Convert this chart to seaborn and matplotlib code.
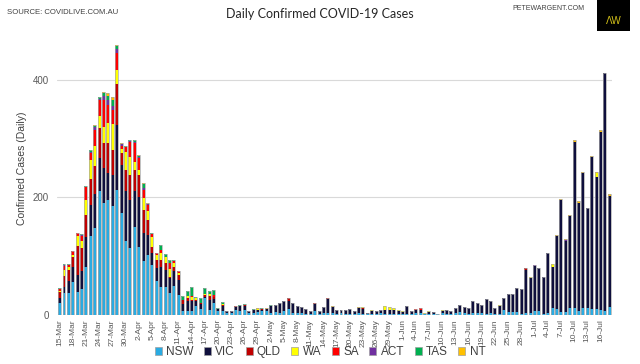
import numpy as np
import pandas as pd
import matplotlib
matplotlib.use("Agg")
from matplotlib import pyplot as plt
from matplotlib.patches import Rectangle
import seaborn as sns

states = ["NSW", "VIC", "QLD", "WA", "SA", "ACT", "TAS", "NT"]
colours = ["#29abe2", "#0f0f3d", "#c00000", "#ffff00", "#ff0000", "#7030a0", "#00b050", "#ffc000"]

dates = pd.date_range("2020-03-15", "2020-07-18")
day_labels = [f"{d.day}-{d.strftime('%b')}" for d in dates]

# daily cases by state, 15-Mar .. 18-Jul
nsw = [21, 37, 38, 56, 39, 44, 81, 135, 148, 210, 190, 196, 186, 212, 173, 125, 113, 149, 116, 91,
       102, 85, 57, 48, 47, 38, 49, 34, 7, 7, 6, 15, 10, 28, 8, 20, 6, 6, 4, 3,
       9, 7, 9, 3, 4, 5, 6, 6, 4, 5, 4, 6, 10, 3, 4, 3, 2, 2, 6, 2,
       3, 4, 3, 2, 3, 2, 2, 1, 3, 2, 1, 2, 2, 3, 2, 2, 2, 2, 1, 2,
       2, 4, 3, 1, 2, 2, 1, 3, 2, 1, 3, 5, 3, 2, 4, 3, 4, 2, 4, 2,
       2, 8, 5, 5, 5, 2, 4, 4, 6, 6, 2, 4, 12, 10, 5, 5, 11, 11, 6, 11,
       11, 10, 10, 8, 7, 13]
vic = [7, 11, 20, 26, 29, 30, 52, 52, 58, 57, 60, 45, 52, 111, 82, 85, 83, 61, 85, 48,
       34, 20, 22, 34, 30, 24, 25, 26, 11, 16, 17, 9, 8, 3, 18, 7, 4, 9, 2, 3,
       5, 8, 6, 3, 4, 4, 3, 4, 11, 12, 17, 17, 14, 17, 11, 10, 8, 5, 13, 5,
       10, 23, 11, 7, 6, 7, 8, 6, 9, 8, 2, 4, 5, 6, 7, 6, 6, 4, 4, 13,
       5, 4, 6, 0, 3, 3, 1, 4, 7, 6, 8, 12, 11, 9, 19, 17, 13, 25, 19, 10,
       13, 20, 31, 31, 40, 42, 73, 59, 78, 73, 62, 101, 69, 124, 191, 120, 157, 284, 185, 231,
       171, 259, 225, 303, 405, 189]
qld = [11, 18, 19, 16, 50, 40, 37, 44, 48, 51, 42, 52, 43, 70, 20, 37, 42, 37, 37, 40,
       26, 10, 15, 12, 11, 3, 8, 8, 8, 5, 3, 2, 3, 3, 6, 4, 0, 2, 0, 0,
       1, 0, 1, 1, 1, 0, 1, 0, 0, 0, 0, 0, 4, 0, 0, 1, 0, 0, 2, 0,
       0, 1, 0, 0, 0, 0, 0, 0, 0, 1, 0, 0, 0, 0, 0, 0, 0, 0, 0, 0,
       0, 1, 0, 0, 0, 0, 0, 0, 0, 0, 0, 0, 0, 0, 0, 0, 0, 0, 0, 0,
       0, 0, 0, 0, 0, 0, 2, 0, 0, 0, 0, 0, 0, 0, 0, 0, 0, 0, 0, 0,
       0, 0, 0, 0, 0, 0]
wa = [2, 11, 4, 4, 16, 11, 26, 33, 34, 20, 28, 33, 44, 23, 8, 31, 31, 14, 9, 20,
      14, 17, 8, 11, 10, 13, 6, 3, 0, 4, 4, 2, 0, 1, 3, 0, 0, 1, 0, 0,
      0, 0, 0, 0, 0, 1, 0, 0, 0, 0, 0, 0, 0, 0, 0, 0, 0, 0, 0, 0,
      0, 0, 0, 0, 0, 0, 0, 0, 0, 2, 0, 3, 0, 0, 6, 5, 3, 3, 2, 0,
      0, 0, 0, 2, 1, 0, 0, 1, 0, 0, 0, 0, 0, 0, 0, 0, 0, 0, 0, 0,
      1, 0, 0, 0, 0, 0, 0, 1, 0, 0, 0, 0, 5, 0, 0, 0, 0, 0, 0, 0,
      0, 0, 6, 0, 0, 0]
sa = [3, 7, 4, 6, 5, 10, 21, 11, 26, 28, 46, 31, 24, 29, 5, 7, 26, 31, 20, 14,
      11, 5, 3, 5, 0, 10, 4, 4, 0, 0, 2, 0, 0, 1, 0, 3, 0, 0, 0, 0,
      0, 0, 0, 0, 0, 0, 0, 0, 0, 0, 0, 0, 0, 0, 0, 0, 0, 0, 0, 0,
      0, 0, 0, 0, 0, 0, 0, 0, 0, 0, 0, 0, 0, 0, 0, 0, 0, 0, 0, 0,
      0, 1, 2, 0, 0, 0, 0, 0, 0, 0, 0, 0, 0, 0, 0, 0, 0, 0, 0, 0,
      0, 0, 0, 0, 0, 0, 0, 0, 0, 0, 0, 0, 0, 0, 0, 0, 0, 0, 0, 0,
      0, 0, 0, 0, 0, 0]
act = [0, 1, 0, 0, 1, 1, 1, 3, 5, 2, 7, 8, 6, 8, 2, 1, 1, 3, 2, 3,
       1, 1, 1, 0, 0, 1, 0, 0, 0, 0, 0, 0, 0, 0, 0, 0, 0, 1, 0, 0,
       0, 0, 0, 0, 0, 0, 0, 0, 0, 0, 0, 0, 0, 0, 0, 0, 0, 0, 0, 0,
       0, 0, 0, 0, 0, 0, 0, 0, 0, 0, 0, 0, 0, 0, 0, 0, 0, 0, 0, 0,
       0, 0, 0, 0, 0, 0, 0, 0, 0, 0, 0, 0, 0, 0, 0, 0, 0, 0, 0, 0,
       0, 0, 0, 0, 0, 0, 0, 0, 1, 0, 0, 0, 0, 0, 0, 2, 0, 0, 0, 0,
       0, 0, 0, 0, 0, 0]
tas = [1, 1, 1, 1, 0, 1, 1, 2, 2, 2, 5, 7, 10, 4, 1, 1, 1, 2, 2, 6,
       1, 1, 0, 9, 6, 5, 2, 0, 6, 8, 16, 3, 7, 9, 5, 9, 2, 3, 1, 1,
       0, 1, 3, 0, 1, 0, 1, 0, 1, 0, 0, 0, 0, 0, 0, 0, 0, 0, 0, 0,
       0, 0, 0, 0, 0, 0, 0, 0, 0, 0, 0, 0, 0, 0, 0, 0, 0, 0, 0, 0,
       0, 0, 0, 0, 0, 0, 0, 0, 0, 0, 0, 0, 0, 0, 0, 0, 0, 0, 0, 0,
       0, 0, 0, 0, 0, 0, 0, 0, 0, 0, 0, 0, 0, 0, 0, 0, 0, 0, 0, 0,
       0, 0, 0, 0, 0, 0]
nt = [0, 0, 0, 0, 0, 0, 1, 0, 2, 0, 1, 5, 5, 3, 1, 1, 0, 1, 1, 2,
      1, 0, 0, 0, 0, 0, 0, 0, 0, 0, 0, 0, 0, 1, 0, 0, 0, 0, 0, 0,
      0, 0, 0, 0, 0, 1, 0, 1, 0, 0, 0, 0, 0, 0, 0, 0, 0, 0, 0, 0,
      0, 0, 1, 0, 0, 0, 0, 0, 1, 1, 0, 0, 0, 0, 0, 0, 0, 0, 0, 0,
      0, 0, 0, 0, 0, 0, 0, 1, 0, 0, 0, 0, 0, 0, 0, 0, 0, 0, 1, 0,
      1, 0, 0, 0, 0, 0, 0, 1, 0, 0, 0, 1, 0, 2, 1, 2, 2, 3, 3, 1,
      0, 1, 2, 3, 0, 3]

df = pd.DataFrame({"day": day_labels, "NSW": nsw, "VIC": vic, "QLD": qld, "WA": wa,
                   "SA": sa, "ACT": act, "TAS": tas, "NT": nt})
cum = df[states].cumsum(axis=1)

sns.set_theme(style="white")
plt.rcParams["font.family"] = ["Liberation Sans", "DejaVu Sans"]

fig, ax = plt.subplots(figsize=(6.4, 3.64), dpi=100)
fig.subplots_adjust(left=0.089, right=0.956, bottom=0.135, top=0.942)

# stacked look: draw cumulative totals from the top layer down
for state, c in reversed(list(zip(states, colours))):
    sns.barplot(x=df["day"], y=cum[state], color=c, width=0.68, saturation=1,
                errorbar=None, linewidth=0, ax=ax)
# grey outline round each stack
sns.barplot(x=df["day"], y=cum["NT"], color="white", width=0.68, saturation=1,
            errorbar=None, facecolor="none", edgecolor="#a8a8a8", linewidth=0.5, ax=ax)

ax.set_xlim(-0.6, len(df) - 0.4)
ax.set_ylim(0, 500)
ax.set_yticks([0, 200, 400])
ax.set_xticks(range(0, len(df), 3))
ax.set_xticklabels(day_labels[::3], rotation=90, fontsize=6, color="#595959")
ax.tick_params(axis="y", labelsize=7, labelcolor="#595959", length=0, pad=6)
ax.tick_params(axis="x", length=0, pad=3)
ax.yaxis.grid(True, color="#d9d9d9", linewidth=0.8)
ax.set_axisbelow(True)
sns.despine(ax=ax, left=True, bottom=True)
ax.set_xlabel("")
ax.set_ylabel("Confirmed Cases (Daily)", fontsize=7.5, color="#404040", labelpad=4)

handles = [Rectangle((0, 0), 1, 1, facecolor=c, edgecolor="#a0a0a0", linewidth=0.5) for c in colours]
fig.legend(handles, states, loc="center", bbox_to_anchor=(0.5, 0.033), ncol=8, frameon=False,
           fontsize=8.5, handlelength=0.6, handleheight=0.6, handletextpad=0.35, columnspacing=0.9,
           labelcolor="#404040")

fig.text(0.5, 0.962, "Daily Confirmed COVID-19 Cases", ha="center", va="center",
         fontsize=9, color="#262626", family=["Lato", "DejaVu Sans"])
fig.text(0.011, 0.965, "SOURCE: COVIDLIVE.COM.AU", ha="left", va="center", fontsize=5.6, color="#404040")
fig.text(0.8, 0.978, "PETEWARGENT.COM", ha="left", va="center", fontsize=5, color="#404040")
fig.patches.append(Rectangle((0.933, 0.915), 0.052, 0.085, transform=fig.transFigure,
                             facecolor="black", edgecolor="none"))
fig.text(0.959, 0.942, "ΛW", ha="center", va="center", fontsize=7, color="#d4c21a")

fig.savefig("out.png", dpi=100)
